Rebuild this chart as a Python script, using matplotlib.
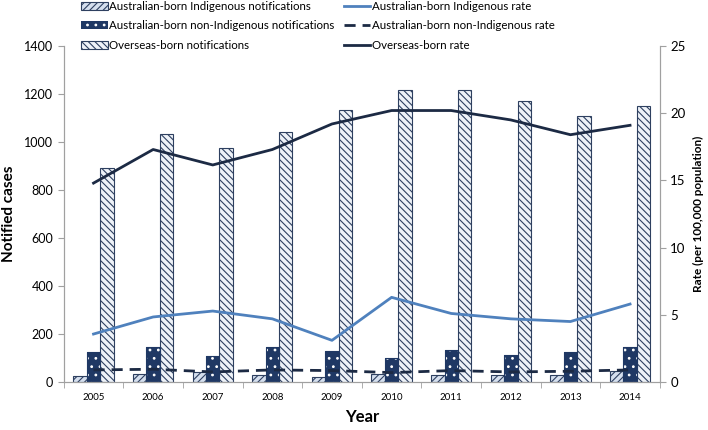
import matplotlib
matplotlib.use("Agg")
import matplotlib.pyplot as plt
import numpy as np
from matplotlib.patches import Patch

years = ["2005", "2006", "2007", "2008", "2009", "2010", "2011", "2012", "2013", "2014"]
indig_notif = [25, 32, 40, 30, 20, 35, 30, 30, 30, 45]
nonindig_notif = [125, 145, 110, 145, 130, 100, 135, 112, 125, 145]
overseas_notif = [890, 1035, 975, 1040, 1135, 1215, 1218, 1170, 1108, 1150]
indig_rate = [3.57, 4.84, 5.28, 4.7, 3.1, 6.3, 5.1, 4.7, 4.5, 5.8]
nonindig_rate = [0.9, 0.95, 0.75, 0.9, 0.85, 0.7, 0.85, 0.75, 0.8, 0.9]
overseas_rate = [14.8, 17.3, 16.15, 17.3, 19.2, 20.2, 20.2, 19.5, 18.4, 19.1]

plt.rcParams['font.family'] = ['Lato', 'DejaVu Sans']
plt.rcParams['hatch.linewidth'] = 0.8

fig = plt.figure(figsize=(7.08, 4.30), dpi=100)
ax = fig.add_axes([0.090, 0.1116, 0.842, 0.7814])
ax2 = ax.twinx()

x = np.arange(len(years))
w = 0.225
navy = "#1F3864"
dark = "#1C2A44"

b1 = ax.bar(x - w, indig_notif, w, color="#D5DFEE", edgecolor="#2E4060", hatch="/////", linewidth=0.8, zorder=2)
ax.bar(x, nonindig_notif, w, color=navy, edgecolor="white", hatch="..", linewidth=0, zorder=2)
b2 = ax.bar(x, nonindig_notif, w, color="none", edgecolor=navy, linewidth=0.8, zorder=3)
b3 = ax.bar(x + w, overseas_notif, w, color="#EEF2F8", edgecolor="#2E4060", hatch="\\\\\\\\\\", linewidth=0.8, zorder=2)

h2 = Patch(facecolor=navy, edgecolor="white", hatch="..", linewidth=0)

l1, = ax2.plot(x, indig_rate, color="#4F81BD", lw=2, zorder=4)
l2, = ax2.plot(x, nonindig_rate, color=dark, lw=2, ls=(0, (4, 2.5)), zorder=4)
l3, = ax2.plot(x, overseas_rate, color=dark, lw=2, zorder=4)

ax.set_xlim(-0.5, 9.5)
ax.set_ylim(0, 1400)
ax2.set_ylim(0, 25)
ax.set_yticks(range(0, 1401, 200))
ax2.set_yticks(range(0, 26, 5))
ax.set_xticks(x)
ax.set_xticklabels(years, fontsize=7)
ax.set_xticks(np.arange(-0.5, 10, 1), minor=True)
ax.tick_params(axis='x', which='major', length=0, pad=8)
ax.tick_params(axis='x', which='minor', length=4, color="#A0A0A0")
ax.tick_params(axis='y', labelsize=9, length=4, color="#A0A0A0")
ax2.tick_params(axis='y', labelsize=9.5, length=4, color="#A0A0A0")

for a in (ax, ax2):
    a.spines['top'].set_visible(False)
    for s in ('left', 'right', 'bottom'):
        a.spines[s].set_color("#A0A0A0")

ax.set_ylabel("Notified cases", fontsize=11, fontweight='bold', labelpad=6)
ax.set_xlabel("Year", fontsize=12, fontweight='bold', labelpad=5)
ax2.set_ylabel("Rate (per 100,000 population)", fontsize=8.5, fontweight='bold', labelpad=5)

handles = [b1, h2, b3, l1, l2, l3]
labels = ["Australian-born Indigenous notifications",
          "Australian-born non-Indigenous notifications",
          "Overseas-born notifications",
          "Australian-born Indigenous rate",
          "Australian-born non-Indigenous rate",
          "Overseas-born rate"]
fig.legend(handles, labels, ncol=2, loc='upper left', bbox_to_anchor=(0.108, 1.008),
           frameon=False, fontsize=8.3, handlelength=2.3, handletextpad=0.15,
           columnspacing=0.8, labelspacing=0.72, borderaxespad=0)

fig.savefig("out.png", dpi=100)
